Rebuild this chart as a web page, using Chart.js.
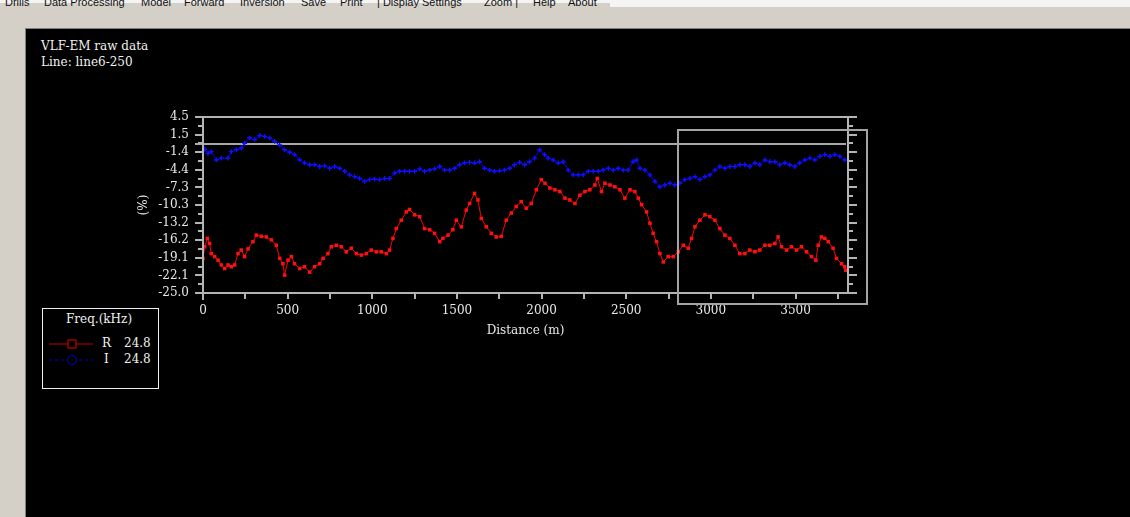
<!DOCTYPE html>
<html>
<head>
<meta charset="utf-8">
<script src="https://cdn.jsdelivr.net/npm/chart.js@4.4.1/dist/chart.umd.min.js"></script>
<style>
  html, body { margin:0; padding:0; }
  body { width:1130px; height:517px; position:relative; overflow:hidden; background:#d4d0c8; }
  .topwhite { position:absolute; left:0; top:0; width:1130px; height:3px; background:#f4f4f4; }
  .topwhite2 { position:absolute; left:610px; top:0; width:520px; height:7px; background:#f4f4f4; }
  .menu span { position:absolute; top:-4px; font-family:"Liberation Sans", Arial, sans-serif; font-size:11px; color:#111; white-space:pre; }
  .panel { position:absolute; left:25px; top:28px; width:1105px; height:489px; background:#000; border-top:1px solid #808080; border-left:1px solid #808080; box-sizing:border-box; }
  canvas#c { position:absolute; left:0; top:0; }
  .ttl { position:absolute; left:41px; font-family:"DejaVu Serif", serif; font-size:12px; color:#f0f0f0; white-space:pre; }
  .legend { position:absolute; left:42px; top:308px; width:117px; height:81px; border:1px solid #f0f0f0; box-sizing:border-box; }
  .lg { position:absolute; font-family:"DejaVu Serif", serif; font-size:12px; color:#f0f0f0; white-space:pre; }
</style>
</head>
<body>
<div class="topwhite"></div>
<div class="topwhite2"></div>
<div class="menu">
  <span style="left:5px">Drills</span>
  <span style="left:44px">Data Processing</span>
  <span style="left:141px">Model</span>
  <span style="left:184px">Forward</span>
  <span style="left:240px">Inversion</span>
  <span style="left:301px">Save</span>
  <span style="left:340px">Print</span>
  <span style="left:377px">| Display Settings</span>
  <span style="left:484px">Zoom |</span>
  <span style="left:533px">Help</span>
  <span style="left:568px">About</span>
</div>
<div class="panel"></div>
<div class="ttl" style="top:39px">VLF-EM raw data</div>
<div class="ttl" style="top:55px">Line: line6-250</div>
<div class="legend"></div>
<div class="lg" style="left:66px; top:312px">Freq.(kHz)</div>
<svg style="position:absolute; left:45px; top:336px" width="55" height="32">
  <line x1="4" y1="8" x2="48" y2="8" stroke="#c00000" stroke-width="1"/>
  <rect x="23" y="4" width="8" height="8" fill="#000" stroke="#e00000" stroke-width="1"/>
  <line x1="4" y1="24" x2="48" y2="24" stroke="#0000c0" stroke-width="1" stroke-dasharray="3,3"/>
  <circle cx="27" cy="24" r="4.5" fill="#000" stroke="#0000e0" stroke-width="1"/>
</svg>
<div class="lg" style="left:102px; top:336px">R</div>
<div class="lg" style="left:124px; top:336px">24.8</div>
<div class="lg" style="left:104px; top:352px">I</div>
<div class="lg" style="left:124px; top:352px">24.8</div>
<canvas id="c" width="1130" height="517"></canvas>
<script>
// ---- data ----
const rDistance = [0,10,26,39,49,69,89,108,128,148,167,187,207,226,246,266,295,315,344,374,404,433,453,472,482,502,522,541,571,600,630,659,689,709,738,758,787,817,846,876,906,935,965,994,1024,1053,1083,1102,1122,1142,1171,1201,1220,1250,1280,1309,1339,1368,1398,1417,1447,1476,1496,1526,1555,1575,1604,1624,1644,1673,1703,1732,1762,1791,1821,1850,1880,1909,1939,1969,1998,
  2020,2049,2079,2108,2138,2167,2197,2226,2256,2285,2315,2329,2354,2374,2404,2433,2463,2492,2522,2551,2571,2591,2620,2640,2659,2679,2699,2719,2748,2778,2807,2837,2866,2886,2906,2935,2965,2994,3024,3053,3083,3112,3142,3171,3201,3230,3260,3289,3319,3348,3378,3397,3417,3447,3476,3506,3535,3565,3594,3620,3634,3653,3673,3693,3722,3742,3772,3791,3797];
const rValues = [-19.2,-17.25,-15.85,-16.7,-18.4,-18.9,-19.5,-20.3,-20.9,-20.3,-20.6,-20.3,-18.4,-17.8,-18.9,-17.6,-16.4,-15.3,-15.5,-15.6,-16.1,-17.0,-19.2,-20.1,-22.0,-19.5,-18.9,-20.1,-20.9,-20.6,-21.5,-20.6,-20.1,-19.2,-18.4,-17.25,-17.0,-17.25,-18.1,-17.5,-18.4,-18.65,-18.4,-17.8,-18.1,-18.1,-18.4,-17.8,-15.85,-14.2,-12.8,-11.4,-11.0,-11.9,-12.2,-14.2,-14.4,-15.0,-16.4,-15.85,-15.3,-14.4,-12.8,-13.9,-11.1,-10.0,-8.3,-9.4,-12.5,-13.9,-15.0,-15.6,-15.5,-12.8,-11.6,-10.5,-9.7,-10.8,-10.0,-7.7,-6.0,
  -6.6,-7.4,-7.7,-8.0,-9.1,-9.4,-10.0,-8.6,-8.0,-7.7,-6.9,-5.8,-8.0,-6.6,-6.9,-7.2,-7.7,-9.1,-7.7,-8.0,-9.1,-10.2,-11.4,-13.3,-15.0,-16.4,-18.4,-19.8,-18.9,-18.9,-18.1,-17.0,-17.5,-15.85,-13.9,-12.8,-11.9,-12.2,-12.8,-14.2,-15.3,-15.85,-17.0,-18.4,-18.4,-17.8,-18.1,-17.8,-17.0,-17.0,-16.7,-15.6,-17.25,-17.8,-17.25,-17.8,-17.25,-18.1,-18.9,-19.5,-17.0,-15.6,-15.85,-16.4,-17.5,-19.2,-20.1,-20.6,-21.2];

const iDistance = [0,10,30,49,79,108,148,167,197,226,246,276,305,335,364,394,423,453,482,512,541,571,600,630,659,689,719,748,778,807,837,866,896,925,955,984,1014,1043,1073,1102,1132,1161,1191,1220,1250,1280,1309,1339,1368,1398,1427,1457,1486,1516,1545,1575,1604,1634,1663,1693,1722,1752,1781,1811,1840,1870,1900,1929,1959,1988,2018,
  2039,2069,2098,2128,2157,2187,2217,2246,2276,2305,2335,2364,2394,2423,2453,2482,2512,2541,2561,2581,2610,2640,2669,2699,2728,2758,2787,2817,2846,2876,2906,2935,2965,2994,3024,3053,3083,3112,3142,3171,3201,3230,3260,3289,3319,3348,3378,3407,3437,3466,3496,3525,3555,3585,3614,3644,3673,3703,3732,3762,3791];
const iValues = [-1.1,-0.9,-1.6,-1.3,-2.7,-2.4,-2.4,-1.3,-1.0,-0.7,0.1,1.0,0.7,1.4,1.25,1.0,0.4,-0.2,-1.0,-1.4,-1.8,-2.7,-3.2,-3.5,-3.5,-3.8,-3.7,-4.1,-3.8,-4.1,-4.6,-5.2,-5.5,-5.8,-6.3,-6.0,-5.9,-6.0,-5.8,-5.8,-4.9,-4.6,-4.6,-4.6,-4.6,-4.2,-4.6,-4.4,-4.2,-3.8,-4.4,-4.4,-4.1,-3.5,-3.2,-3.1,-3.2,-3.0,-4.1,-4.4,-4.6,-4.5,-4.4,-4.1,-3.5,-3.1,-3.5,-3.0,-2.4,-1.0,-1.8,
  -2.4,-2.7,-3.2,-3.0,-4.4,-5.2,-5.2,-5.2,-4.6,-4.6,-4.6,-4.4,-4.1,-4.4,-4.1,-4.4,-4.4,-3.0,-2.7,-4.1,-4.4,-5.2,-6.3,-7.2,-6.9,-6.6,-6.9,-6.6,-6.0,-5.8,-5.5,-6.0,-5.5,-5.2,-4.4,-3.8,-4.1,-3.8,-3.8,-3.5,-3.5,-3.8,-3.2,-3.5,-2.7,-3.0,-3.0,-3.5,-3.2,-3.5,-3.8,-3.2,-2.7,-2.4,-2.7,-2.1,-1.8,-2.1,-1.8,-2.1,-2.7];

const yTickLabels = ['4.5','1.5','-1.4','-4.4','-7.3','-10.3','-13.2','-16.2','-19.1','-22.1','-25.0'];
const xTickLabels = ['0','500','1000','1500','2000','2500','3000','3500'];
const seriesNames = ['R  24.8', 'I  24.8'];

// ---- scale settings ----
const Y_MAX = 4.5, Y_MIN = -25.0, X_MIN = 0, X_MAX = 3810;
const Y_STEP = (Y_MAX - Y_MIN) / 20;     // major + minor ticks
const X_STEP = 250;

const AXIS = '#b4b4b4';
const TXT = '#e8e8e8';
const SERIF = '"DejaVu Serif", serif';

const toXY = (xs, ys) => xs.map((d, i) => ({ x: d, y: ys[i] }));

const frame = {
  id: 'frame',
  beforeDatasetsDraw(chart) {
    const { ctx, chartArea: { left, right }, scales: { y } } = chart;
    const y0 = Math.round(y.getPixelForValue(0));
    ctx.save();
    ctx.strokeStyle = '#a8a8a8';
    ctx.lineWidth = 2;
    ctx.beginPath(); ctx.moveTo(left - 8, y0); ctx.lineTo(right - 2, y0); ctx.stroke();
    ctx.restore();
  },
  afterDatasetsDraw(chart) {
    const { ctx, chartArea: { left, right, top, bottom }, scales: { x, y } } = chart;
    ctx.save();
    ctx.strokeStyle = AXIS;
    ctx.lineWidth = 2;
    const L = (x1, y1, x2, y2) => { ctx.beginPath(); ctx.moveTo(x1, y1); ctx.lineTo(x2, y2); ctx.stroke(); };
    L(left, top, right + 8, top);
    L(left - 8, bottom, right + 9, bottom);
    L(left, top, left, bottom + 7);
    L(right, top, right, bottom);
    for (let i = 0; i <= 20; i++) {
      const py = Math.round(y.getPixelForValue(Y_MAX - i * Y_STEP));
      const major = i % 2 === 0;
      L(left - (major ? 8 : 5), py, left, py);
      L(right, py, right + (major ? 9 : 5), py);
    }
    for (let v = X_MIN; v <= X_MAX; v += X_STEP) {
      const px = Math.round(x.getPixelForValue(v));
      L(px, bottom, px, bottom + 6);
    }
    ctx.strokeStyle = '#a4a4a4';
    const bx0 = Math.round(x.getPixelForValue(2803));
    const bx1 = Math.round(x.getPixelForValue(3925));
    const by0 = Math.round(y.getPixelForValue(2.25));
    const by1 = Math.round(y.getPixelForValue(-26.8));
    ctx.strokeRect(bx0, by0, bx1 - bx0, by1 - by0);
    ctx.restore();
  }
};

new Chart(document.getElementById('c'), {
  type: 'line',
  data: {
    datasets: [
      {
        label: seriesNames[0],
        data: toXY(rDistance, rValues),
        borderColor: '#ff0000',
        backgroundColor: '#ff0000',
        borderWidth: 1,
        pointStyle: 'rect',
        pointRadius: 2.5,
        pointBorderWidth: 0,
        pointBackgroundColor: '#ff1010',
        tension: 0
      },
      {
        label: seriesNames[1],
        data: toXY(iDistance, iValues),
        borderColor: '#0000ff',
        backgroundColor: '#0000ff',
        borderWidth: 1,
        pointStyle: 'cross',
        pointRadius: 2.4,
        pointBorderWidth: 1.4,
        pointBorderColor: '#1010ff',
        tension: 0
      }
    ]
  },
  options: {
    responsive: false,
    animation: false,
    devicePixelRatio: 1,
    layout: { padding: { left: 135, top: 117, right: 282, bottom: 174 } },
    plugins: { legend: { display: false }, tooltip: { enabled: false } },
    scales: {
      x: {
        type: 'linear',
        min: X_MIN, max: X_MAX,
        grid: { display: false, drawTicks: false },
        border: { display: false },
        afterBuildTicks: s => {
          const t = [];
          for (let v = X_MIN; v <= X_MAX; v += X_STEP) t.push({ value: v });
          s.ticks = t;
        },
        afterFit: s => { s.height = 50; },
        ticks: {
          autoSkip: false, maxRotation: 0, padding: 11,
          color: TXT, font: { family: SERIF, size: 12 },
          callback: v => (v % 500 === 0 ? xTickLabels[v / 500] : '')
        },
        title: { display: true, text: 'Distance (m)', color: TXT, font: { family: SERIF, size: 12 }, padding: { top: 0, bottom: 5 } }
      },
      y: {
        type: 'linear',
        min: Y_MIN, max: Y_MAX,
        grid: { display: false, drawTicks: false },
        border: { display: false },
        afterBuildTicks: s => {
          const t = [];
          for (let i = 20; i >= 0; i--) t.push({ value: Y_MAX - i * Y_STEP });
          s.ticks = t;
        },
        afterFit: s => { s.width = 68; },
        ticks: {
          autoSkip: false, padding: 14,
          color: TXT, font: { family: SERIF, size: 12 },
          callback: v => {
            const k = (Y_MAX - v) / Y_STEP;
            const r = Math.round(k);
            return (Math.abs(k - r) < 1e-6 && r % 2 === 0) ? yTickLabels[r / 2] : '';
          }
        },
        title: { display: true, text: '(%)', color: TXT, font: { family: SERIF, size: 12 }, padding: { top: 2, bottom: 0 } }
      }
    }
  },
  plugins: [frame]
});
</script>
</body>
</html>
